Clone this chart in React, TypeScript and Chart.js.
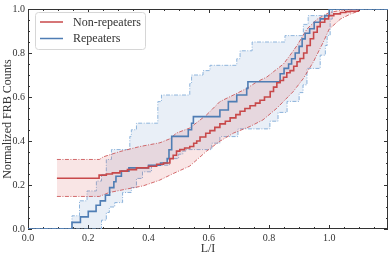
import React, { useEffect, useRef } from 'react';
import { Chart, registerables } from 'chart.js';
Chart.register(...registerables);

// Repeaters (blue) – median CDF and band edges
const blueMedX = [0, 0.146, 0.174, 0.2, 0.226, 0.24, 0.257, 0.271, 0.285, 0.292, 0.31, 0.335, 0.40, 0.44, 0.462, 0.468, 0.477, 0.532, 0.543, 0.549, 0.637, 0.665, 0.693, 0.726, 0.73, 0.837, 0.85, 0.865, 0.875, 0.887, 0.90, 0.91, 0.92, 0.935, 0.95, 0.97, 0.985, 1.0, 1.2];
const blueMedY = [0, 0.03, 0.055, 0.08, 0.108, 0.128, 0.154, 0.188, 0.215, 0.24, 0.263, 0.278, 0.29, 0.30, 0.32, 0.36, 0.421, 0.451, 0.481, 0.511, 0.541, 0.579, 0.609, 0.639, 0.669, 0.706, 0.73, 0.75, 0.774, 0.80, 0.83, 0.864, 0.89, 0.91, 0.94, 0.955, 0.97, 1.0, 1.0];
const blueHiX = [0, 0.146, 0.171, 0.196, 0.227, 0.244, 0.26, 0.277, 0.338, 0.343, 0.36, 0.431, 0.443, 0.537, 0.543, 0.581, 0.604, 0.693, 0.704, 0.744, 0.853, 0.914, 0.93, 1.0, 1.2];
const blueHiY = [0, 0.06, 0.128, 0.173, 0.218, 0.248, 0.316, 0.361, 0.421, 0.451, 0.481, 0.579, 0.609, 0.661, 0.70, 0.72, 0.744, 0.774, 0.81, 0.85, 0.879, 0.93, 0.97, 1.0, 1.0];
const blueLoX = [0, 0.244, 0.26, 0.27, 0.288, 0.314, 0.343, 0.36, 0.38, 0.41, 0.47, 0.50, 0.514, 0.526, 0.61, 0.637, 0.697, 0.803, 0.83, 0.86, 0.9, 0.913, 0.926, 0.97, 0.987, 0.993, 1.003, 1.01, 1.2];
const blueLoY = [0, 0.04, 0.075, 0.10, 0.12, 0.166, 0.188, 0.23, 0.26, 0.29, 0.32, 0.34, 0.354, 0.361, 0.39, 0.42, 0.455, 0.49, 0.53, 0.58, 0.62, 0.655, 0.73, 0.79, 0.834, 0.88, 0.954, 1.0, 1.0];

// Non-repeaters (red) – median CDF and band edges
const redMedX = [0.096, 0.236, 0.26, 0.28, 0.305, 0.33, 0.36, 0.40, 0.427, 0.45, 0.471, 0.482, 0.493, 0.504, 0.52, 0.537, 0.55, 0.56, 0.571, 0.59, 0.604, 0.62, 0.637, 0.655, 0.671, 0.69, 0.704, 0.72, 0.737, 0.755, 0.77, 0.785, 0.804, 0.815, 0.826, 0.837, 0.848, 0.859, 0.87, 0.882, 0.893, 0.903, 0.915, 0.926, 0.937, 0.948, 0.96, 0.97, 0.985, 0.998, 1.015, 1.037, 1.055, 1.07, 1.097];
const redMedY = [0.231, 0.245, 0.25, 0.255, 0.263, 0.27, 0.278, 0.285, 0.294, 0.30, 0.32, 0.335, 0.354, 0.361, 0.368, 0.375, 0.39, 0.40, 0.418, 0.435, 0.447, 0.462, 0.478, 0.49, 0.505, 0.52, 0.535, 0.548, 0.56, 0.572, 0.585, 0.60, 0.625, 0.645, 0.665, 0.675, 0.69, 0.71, 0.72, 0.74, 0.76, 0.775, 0.80, 0.834, 0.865, 0.894, 0.92, 0.94, 0.955, 0.97, 0.978, 0.984, 0.988, 0.99, 0.996];
const redHiX = [0.096, 0.237, 0.25, 0.305, 0.372, 0.438, 0.471, 0.493, 0.537, 0.593, 0.637, 0.682, 0.726, 0.76, 0.793, 0.815, 0.848, 0.87, 0.893, 0.926, 0.96, 1.0, 1.047, 1.097];
const redHiY = [0.316, 0.316, 0.328, 0.352, 0.375, 0.392, 0.41, 0.436, 0.459, 0.519, 0.579, 0.609, 0.639, 0.669, 0.691, 0.715, 0.75, 0.79, 0.834, 0.909, 0.954, 0.984, 0.996, 0.998];
const redLoX = [0.096, 0.237, 0.27, 0.325, 0.382, 0.437, 0.482, 0.537, 0.593, 0.637, 0.682, 0.737, 0.78, 0.826, 0.88, 0.914, 0.947, 0.98, 1.0, 1.037, 1.07, 1.097];
const redLoY = [0.148, 0.148, 0.166, 0.181, 0.196, 0.222, 0.252, 0.286, 0.354, 0.399, 0.436, 0.466, 0.496, 0.549, 0.624, 0.684, 0.759, 0.849, 0.909, 0.954, 0.977, 0.99];

const legendLabels = ['Non-repeaters', 'Repeaters'];
const xTitle = 'L/I';
const yTitle = 'Normalized FRB Counts';

const RED = '#c8484a';
const BLUE = '#4f7db4';
const BLUE_BAND = '#8fb5dc';
const RED_FILL = 'rgba(215,80,80,0.15)';
const BLUE_FILL = 'rgba(74,127,190,0.12)';
const FONT = '"Liberation Serif", "DejaVu Serif", serif';
const DASHDOT = [4, 1.5, 1, 1.5];

const zip = (xs: number[], ys: number[]) => xs.map((x, i) => ({ x, y: ys[i] }));

const framePlugin = {
  id: 'frameTicks',
  beforeDatasetsDraw(chart: any) {
    const { ctx, chartArea: a, scales } = chart;
    const xs = scales.x, ys = scales.y;
    ctx.save();
    ctx.strokeStyle = '#333';
    ctx.lineWidth = 1;
    ctx.strokeRect(a.left + 0.5, a.top + 0.5, a.right - a.left - 1, a.bottom - a.top - 1);
    ctx.beginPath();
    for (let i = 0; i * 0.05 <= xs.max + 1e-9; i++) {
      const v = i * 0.05;
      const px = Math.round(xs.getPixelForValue(v)) + 0.5;
      const len = i % 4 === 0 ? 4 : 2;
      ctx.moveTo(px, a.bottom); ctx.lineTo(px, a.bottom - len);
      ctx.moveTo(px, a.top); ctx.lineTo(px, a.top + len);
    }
    for (let i = 0; i * 0.05 <= ys.max + 1e-9; i++) {
      const v = i * 0.05;
      const py = Math.round(ys.getPixelForValue(v)) + 0.5;
      const len = i % 4 === 0 ? 4 : 2;
      ctx.moveTo(a.left, py); ctx.lineTo(a.left + len, py);
      ctx.moveTo(a.right, py); ctx.lineTo(a.right - len, py);
    }
    ctx.stroke();
    ctx.restore();
  },
};

const legendPlugin = {
  id: 'boxLegend',
  afterDatasetsDraw(chart: any) {
    const { ctx } = chart;
    ctx.save();
    const x = 35.5, y = 12.5, w = 110, h = 37, r = 3;
    ctx.beginPath();
    ctx.moveTo(x + r, y);
    ctx.arcTo(x + w, y, x + w, y + h, r);
    ctx.arcTo(x + w, y + h, x, y + h, r);
    ctx.arcTo(x, y + h, x, y, r);
    ctx.arcTo(x, y, x + w, y, r);
    ctx.closePath();
    ctx.fillStyle = 'rgba(255,255,255,0.85)';
    ctx.fill();
    ctx.strokeStyle = '#d6d6d6';
    ctx.lineWidth = 1;
    ctx.stroke();
    const colors = [RED, BLUE];
    const rows = [22, 38.5];
    legendLabels.forEach((lab, i) => {
      ctx.strokeStyle = colors[i];
      ctx.lineWidth = 1.5;
      ctx.beginPath();
      ctx.moveTo(40, rows[i]);
      ctx.lineTo(63, rows[i]);
      ctx.stroke();
      ctx.fillStyle = '#333';
      ctx.font = `12px ${FONT}`;
      ctx.textBaseline = 'middle';
      ctx.fillText(lab, 73, rows[i] + 0.5);
    });
    ctx.restore();
  },
};

export default function App() {
  const ref = useRef<HTMLCanvasElement | null>(null);
  useEffect(() => {
    if (!ref.current) return;
    const base = { pointRadius: 0, pointHoverRadius: 0, tension: 0 };
    const chart = new Chart(ref.current, {
      type: 'line',
      data: {
        datasets: [
          { ...base, label: 'rep-lo', data: zip(blueLoX, blueLoY), stepped: true, borderColor: BLUE_BAND, borderWidth: 1, borderDash: DASHDOT, fill: false, order: 6 },
          { ...base, label: 'rep-hi', data: zip(blueHiX, blueHiY), stepped: true, borderColor: BLUE_BAND, borderWidth: 1, borderDash: DASHDOT, fill: 0, backgroundColor: BLUE_FILL, order: 5 },
          { ...base, label: 'non-lo', data: zip(redLoX, redLoY), borderColor: RED, borderWidth: 0.8, borderDash: DASHDOT, fill: false, order: 4 },
          { ...base, label: 'non-hi', data: zip(redHiX, redHiY), borderColor: RED, borderWidth: 0.8, borderDash: DASHDOT, fill: 2, backgroundColor: RED_FILL, order: 3 },
          { ...base, label: legendLabels[1], data: zip(blueMedX, blueMedY), stepped: true, borderColor: BLUE, borderWidth: 1.6, fill: false, order: 2 },
          { ...base, label: legendLabels[0], data: zip(redMedX, redMedY), stepped: true, borderColor: RED, borderWidth: 1.6, fill: false, order: 1 },
        ] as any,
      },
      options: {
        animation: false,
        responsive: false,
        devicePixelRatio: 1,
        layout: { padding: { top: 6, right: 2, left: 0, bottom: 0 } },
        plugins: { legend: { display: false }, tooltip: { enabled: false } },
        scales: {
          x: {
            type: 'linear', min: 0, max: 1.195,
            grid: { display: false, drawTicks: false },
            border: { display: false },
            ticks: { stepSize: 0.2, includeBounds: false, padding: 3, color: '#333', font: { family: FONT, size: 10 }, callback: (v: any) => Number(v).toFixed(1), maxRotation: 0 },
            title: { display: true, text: xTitle, color: '#333', font: { family: FONT, size: 12 }, padding: { top: 0, bottom: 0 } },
            afterFit: (s: any) => { s.height = 27; },
          },
          y: {
            type: 'linear', min: 0, max: 1,
            grid: { display: false, drawTicks: false },
            border: { display: false },
            ticks: { stepSize: 0.2, padding: 3, color: '#333', font: { family: FONT, size: 10 }, callback: (v: any) => Number(v).toFixed(1) },
            title: { display: true, text: yTitle, color: '#333', font: { family: FONT, size: 12 }, padding: { top: 1, bottom: 0 } },
            afterFit: (s: any) => { s.width = 28; },
          },
        },
      } as any,
      plugins: [framePlugin, legendPlugin],
    });
    return () => chart.destroy();
  }, []);
  return (
    <div style={{ position: 'fixed', left: 0, top: 0, width: 390, height: 256, background: '#fff' }}>
      <canvas ref={ref} width={390} height={256} style={{ display: 'block', width: 390, height: 256 }} />
    </div>
  );
}
